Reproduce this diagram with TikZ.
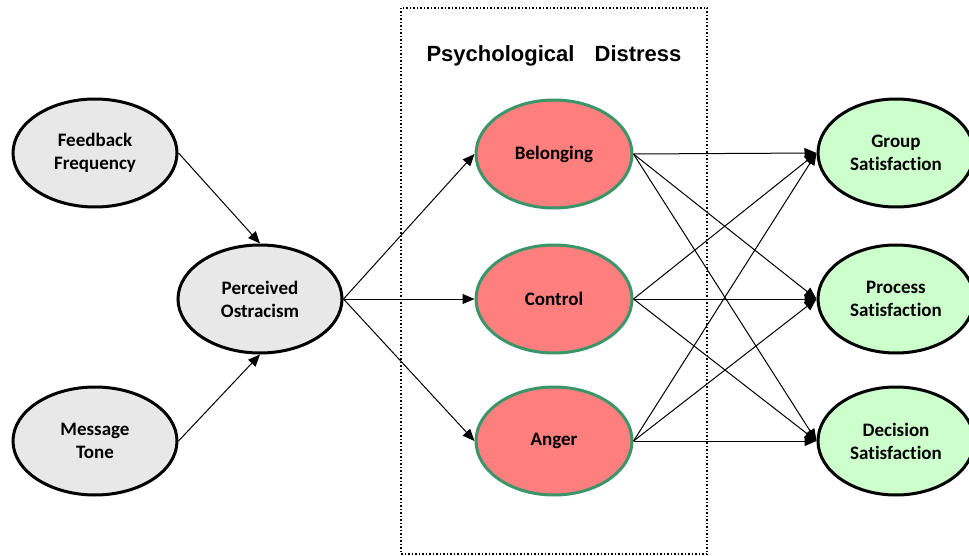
\documentclass[tikz,border=0pt]{standalone}
\usepackage{fontspec}
\setmainfont{Carlito}[Ligatures=NoCommon]
\newfontfamily\titlefont{Liberation Sans}
\usetikzlibrary{shapes.geometric,arrows.meta}
\definecolor{greyfill}{RGB}{232,232,232}
\definecolor{pinkfill}{RGB}{255,127,127}
\definecolor{mintfill}{RGB}{204,255,204}
\definecolor{greenline}{RGB}{58,150,104}
\begin{document}
\begin{tikzpicture}[x=1pt,y=-1pt,
  construct/.style={ellipse, draw=black, line width=3pt, inner sep=0pt,
    minimum width=164pt, minimum height=108pt, align=center,
    font=\bfseries\fontsize{19}{23}\selectfont},
  antecedent/.style={construct, fill=greyfill},
  distress/.style={construct, fill=pinkfill, draw=greenline, minimum width=156pt},
  outcome/.style={construct, fill=mintfill, minimum width=156pt},
  path/.style={draw=black, line width=1pt,
    -{Triangle[length=12pt,width=10pt]}},
]
\clip (0,0) rectangle (969,556);
\fill[white] (0,0) rectangle (969,556);

% mediator group frame and its heading
\draw[dotted, line width=1.5pt] (401,8) rectangle (707,554);
\node[font=\titlefont\bfseries\fontsize{22}{26}\selectfont] (title) at (554,56)
  {Psychological\hspace{14pt} Distress};

% exogenous variables
\node[antecedent] (fb) at (95,153) {Feedback\\Frequency};
\node[antecedent] (mt) at (95,441) {Message\\Tone};
\node[antecedent] (po) at (260,299) {Perceived\\Ostracism};

% psychological distress mediators
\node[distress] (bel) at (554,154) {Belonging};
\node[distress] (con) at (554,299) {Control};
\node[distress] (ang) at (554,441) {Anger};

% satisfaction outcomes
\node[outcome] (grp) at (896,153) {Group\\Satisfaction};
\node[outcome] (pro) at (896,299) {Process\\Satisfaction};
\node[outcome] (dec) at (896,441) {Decision\\Satisfaction};

% paths
\draw[path] (fb.east) -- (po.north);
\draw[path] (mt.east) -- (po.south);
\foreach \m in {bel,con,ang} {
  \draw[path] (po.east) -- (\m.west);
}
\foreach \m in {bel,con,ang} {
  \foreach \o in {grp,pro,dec} {
    \draw[path] (\m.east) -- (\o.west);
  }
}
\end{tikzpicture}
\end{document}
